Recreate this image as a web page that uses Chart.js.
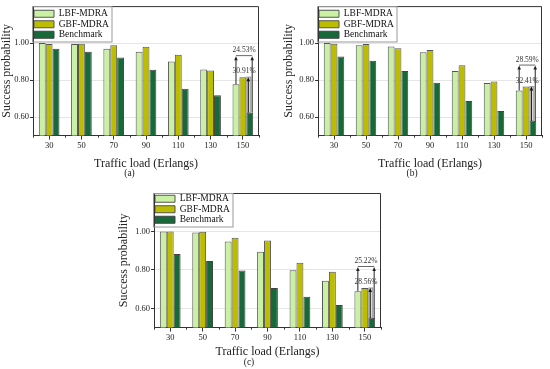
<!DOCTYPE html>
<html lang="en">
<head>
    <meta charset="UTF-8">
    <title>Success probability vs traffic load</title>
    <script src="https://cdn.jsdelivr.net/npm/chart.js"></script>
    <style>
        body { margin: 0; background: #fff; }
        .wrap { position: relative; width: 550px; height: 369px; }
        canvas { position: absolute; }
    </style>
</head>
<body>
    <div class="wrap">
        <canvas id="chartA" width="275" height="185" style="left:0;top:0"></canvas>
        <canvas id="chartB" width="275" height="185" style="left:275px;top:0"></canvas>
        <canvas id="chartC" width="290" height="184" style="left:110px;top:185px"></canvas>
    </div>

    <script>
        const loads = ['30', '50', '70', '90', '110', '130', '150'];
        const yTicks = [0.6, 0.8, 1.0];

        // (a)
        const lbfA = [1.000, 0.995, 0.970, 0.953, 0.900, 0.857, 0.777];
        const gbfA = [0.995, 0.997, 0.988, 0.980, 0.937, 0.852, 0.816];
        const benchA = [0.970, 0.953, 0.922, 0.856, 0.753, 0.718, 0.624];
        const gainsA = ['24.53%', '30.91%'];

        // (b)
        const lbfB = [1.000, 0.988, 0.981, 0.951, 0.849, 0.784, 0.744];
        const gbfB = [0.997, 0.995, 0.972, 0.963, 0.880, 0.793, 0.765];
        const benchB = [0.927, 0.904, 0.849, 0.786, 0.687, 0.633, 0.579];
        const gainsB = ['28.59%', '32.41%'];

        // (c)
        const lbfC = [1.000, 0.995, 0.948, 0.894, 0.798, 0.743, 0.689];
        const gbfC = [1.000, 0.998, 0.967, 0.953, 0.837, 0.790, 0.706];
        const benchC = [0.883, 0.847, 0.797, 0.706, 0.661, 0.617, 0.550];
        const gainsC = ['25.22%', '28.56%'];

        const serif = 'Liberation Serif';
        const axisColor = '#333';

        function arrowUp(ctx, x, yFrom, yTo, color) {
            ctx.strokeStyle = color;
            ctx.fillStyle = color;
            ctx.beginPath();
            ctx.moveTo(x, yFrom);
            ctx.lineTo(x, yTo + 2);
            ctx.stroke();
            ctx.beginPath();
            ctx.moveTo(x, yTo);
            ctx.lineTo(x - 1.8, yTo + 4);
            ctx.lineTo(x + 1.8, yTo + 4);
            ctx.closePath();
            ctx.fill();
        }

        // frame, legend box and the gain brackets on the last group
        const extras = {
            id: 'extras',
            beforeDraw(chart, args, opts) {
                // push the in-plot legend down a little
                const lg = chart.legend;
                const dy = opts.legendDy;
                lg.top += dy;
                lg.bottom += dy;
                (lg.legendHitBoxes || []).forEach(h => { h.top += dy; });
            },
            afterDatasetsDraw(chart, args, opts) {
                const ctx = chart.ctx;
                const a = chart.chartArea;
                const i = loads.length - 1;
                const l = chart.getDatasetMeta(0).data[i];
                const g = chart.getDatasetMeta(1).data[i];
                const b = chart.getDatasetMeta(2).data[i];
                const w = b.width;
                ctx.save();
                ctx.lineWidth = 1;

                // gray difference column above benchmark
                ctx.fillStyle = '#d8d8d8';
                ctx.strokeStyle = '#999';
                const gx0 = b.x - w / 2 + 0.5;
                const gx1 = b.x + w * 0.15;
                ctx.fillRect(gx0, g.y, gx1 - gx0, b.y - g.y);
                ctx.strokeRect(gx0, g.y, gx1 - gx0, b.y - g.y);

                const topY = g.y - 22;
                const rightX = b.x + w / 2 - 1;
                // upper bracket
                ctx.strokeStyle = '#666';
                ctx.beginPath();
                ctx.moveTo(l.x, topY + 0.5);
                ctx.lineTo(rightX, topY + 0.5);
                ctx.stroke();
                arrowUp(ctx, l.x, l.y, topY + 1, '#222');
                arrowUp(ctx, rightX, b.y, topY + 1, '#222');
                // lower arrow: benchmark up to GBF
                arrowUp(ctx, b.x - w / 2 + 2, b.y, g.y, '#111');

                ctx.fillStyle = '#333';
                ctx.font = '7.5px "' + serif + '"';
                ctx.textAlign = 'center';
                ctx.textBaseline = 'bottom';
                const cx = (l.x + rightX) / 2;
                ctx.fillText(opts.gains[0], cx, topY - 1);
                ctx.fillText(opts.gains[1], cx, g.y - 2);

                // top and right frame
                ctx.strokeStyle = axisColor;
                ctx.beginPath();
                ctx.moveTo(a.left, a.top + 0.5);
                ctx.lineTo(a.right - 0.5, a.top + 0.5);
                ctx.lineTo(a.right - 0.5, a.bottom);
                ctx.stroke();

                // minor ticks between categories
                const xs = chart.scales.x;
                for (let k = 0; k <= loads.length; k++) {
                    const px = Math.round(xs.getPixelForValue(k - 0.5)) + 0.5;
                    ctx.beginPath();
                    ctx.moveTo(px, a.bottom);
                    ctx.lineTo(px, a.bottom + 2);
                    ctx.stroke();
                }
                ctx.restore();
            },
            afterDraw(chart) {
                const boxes = chart.legend.legendHitBoxes;
                if (!boxes || !boxes.length) return;
                let x0 = Infinity, x1 = -Infinity, y1 = -Infinity;
                boxes.forEach(h => {
                    x0 = Math.min(x0, h.left);
                    x1 = Math.max(x1, h.left + h.width);
                    y1 = Math.max(y1, h.top + h.height);
                });
                const a = chart.chartArea;
                const ctx = chart.ctx;
                ctx.save();
                ctx.strokeStyle = '#999';
                ctx.lineWidth = 1;
                const left = Math.round(x0) - 1.5;
                const top = a.top + 0.5;
                ctx.strokeRect(left, top, Math.round(x1) + 3 - left, Math.round(y1) + 2 - top);
                ctx.restore();
            }
        };

        function makeChart(id, lbf, gbf, bench, gains, tag, lay) {
            const ctx = document.getElementById(id).getContext('2d');
            return new Chart(ctx, {
                type: 'bar',
                data: {
                    labels: loads,
                    datasets: [
                        { label: 'LBF-MDRA', data: lbf, backgroundColor: '#c9f0a3', borderColor: '#555', borderWidth: 1 },
                        { label: 'GBF-MDRA', data: gbf, backgroundColor: '#bdbd00', borderColor: '#555', borderWidth: 1 },
                        { label: 'Benchmark', data: bench, backgroundColor: '#17693a', borderColor: '#444', borderWidth: 1 }
                    ]
                },
                options: {
                    responsive: false,
                    animation: false,
                    devicePixelRatio: 1,
                    layout: { padding: { left: lay.left, right: lay.right, top: lay.top, bottom: 0 } },
                    datasets: { bar: { categoryPercentage: 0.64, barPercentage: 1.0 } },
                    scales: {
                        x: {
                            afterFit: s => { s.height = lay.xh; },
                            grid: { drawOnChartArea: false, offset: false, tickLength: 4, color: axisColor },
                            border: { color: axisColor, width: 1 },
                            ticks: { color: '#222', padding: 1, font: { family: serif, size: 8.5 } },
                            title: {
                                display: true, text: 'Traffic load (Erlangs)', color: '#222',
                                padding: { top: 0, bottom: lay.xtp }, font: { family: serif, size: 12, lineHeight: 1.1 }
                            }
                        },
                        y: {
                            min: 0.5, max: 1.2,
                            afterFit: s => { s.width = lay.yw; },
                            afterBuildTicks: s => { s.ticks = yTicks.map(v => ({ value: v })); },
                            grid: { color: '#e6e6e6', tickColor: axisColor, tickLength: 3 },
                            border: { color: axisColor, width: 1 },
                            ticks: {
                                color: '#222', padding: 1, font: { family: serif, size: 8.5 },
                                callback: v => Number(v).toFixed(2)
                            },
                            title: {
                                display: true, text: 'Success probability', color: '#222',
                                padding: { top: 0, bottom: 1 }, font: { family: serif, size: 12, lineHeight: 1.1 }
                            }
                        }
                    },
                    plugins: {
                        legend: {
                            position: 'chartArea',
                            align: 'start',
                            labels: {
                                boxWidth: 20, boxHeight: 7, padding: 1, color: '#111',
                                font: { family: serif, size: 9.5 }
                            }
                        },
                        title: {
                            display: true, position: 'bottom', text: tag, color: '#222',
                            padding: { top: 0, bottom: lay.tb }, font: { family: serif, size: 9.5, weight: 'normal' }
                        },
                        tooltip: { enabled: false },
                        extras: { gains: gains, legendDy: lay.ldy }
                    }
                },
                plugins: [extras]
            });
        }

        makeChart('chartA', lbfA, gbfA, benchA, gainsA, '(a)', { left: 0, yw: 33, right: 16, top: 4, xh: 32, tb: 6, ldy: 8, xtp: -3 });
        makeChart('chartB', lbfB, gbfB, benchB, gainsB, '(b)', { left: 7, yw: 36, right: 8, top: 4, xh: 32, tb: 6, ldy: 8, xtp: -3 });
        makeChart('chartC', lbfC, gbfC, benchC, gainsC, '(c)', { left: 7, yw: 37, right: 19, top: 8, xh: 29, tb: 1, ldy: 8, xtp: -2 });
    </script>
</body>
</html>
